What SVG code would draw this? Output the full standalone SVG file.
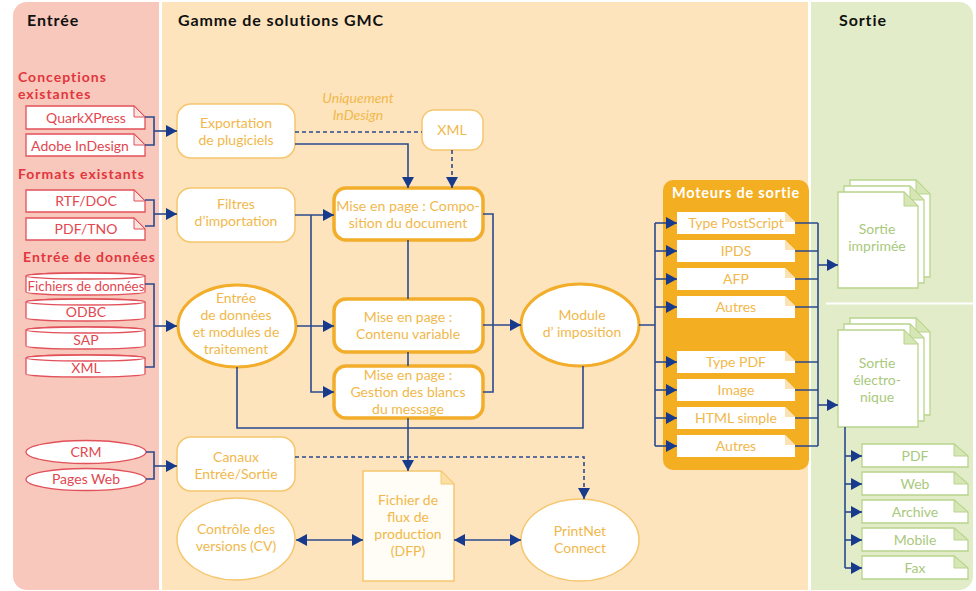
<svg xmlns="http://www.w3.org/2000/svg" width="976" height="591" viewBox="0 0 976 591">
<defs>
  <clipPath id="panels"><rect x="13" y="2" width="960" height="588" rx="14"/></clipPath>
  <marker id="arr" markerUnits="userSpaceOnUse" markerWidth="11" markerHeight="12" refX="11" refY="6" orient="auto-start-reverse">
    <path d="M0,0 L11,6 L0,12 Z" fill="#173a8c"/>
  </marker>
  <style>
    text { font-family: Lato, "Open Sans", "Noto Sans", sans-serif; }
    .title { font-size: 16px; font-weight: bold; fill: #111; letter-spacing: 0.9px; }
    .rh { font-size: 14px; font-weight: bold; fill: #e2353d; letter-spacing: 1px; }
    .rt { font-size: 14px; fill: #e2474f; text-anchor: middle; }
    .ot { font-size: 14px; fill: #f1b84c; text-anchor: middle; }
    .gt { font-size: 14px; fill: #a9c97c; text-anchor: middle; }
    .rdoc { fill: #fff; stroke: #e2505a; stroke-width: 1.3; }
    .rfold { fill: #fbe3e0; stroke: #e2505a; stroke-width: 1; }
    .thin { fill: #fff; stroke: #f5c66d; stroke-width: 1.5; }
    .thick { fill: #fff; stroke: #f2ad2b; stroke-width: 3.5; }
    .edoc { fill: #fff; }
    .efold { fill: #fbe2b4; }
    .gdoc { fill: #fff; stroke: #b8d48c; stroke-width: 1.3; }
    .gfold { fill: #d6e7b5; stroke: #b8d48c; stroke-width: 1; }
    .c { fill: none; stroke: #2a4a8e; stroke-width: 1.6; }
    .a { marker-end: url(#arr); }
    .d { stroke-dasharray: 4 3; }
    .b { marker-start: url(#arr); marker-end: url(#arr); }
  </style>
</defs>

<rect x="0" y="0" width="976" height="591" fill="#fff"/>
<g clip-path="url(#panels)">
  <rect x="13" y="2" width="146" height="590" fill="#f7c8bb"/>
  <rect x="162" y="2" width="646" height="590" fill="#fde4bd"/>
  <rect x="811" y="2" width="165" height="590" fill="#e2ecc9"/>
</g>
<line x1="826" y1="303.5" x2="973" y2="303.5" stroke="#fff" stroke-width="2"/>

<text class="title" x="27" y="26">Entrée</text>
<text class="title" x="178" y="26">Gamme de solutions GMC</text>
<text class="title" x="839" y="26">Sortie</text>

<text class="rh" x="18" y="82">Conceptions</text>
<text class="rh" x="18" y="99">existantes</text>
<text class="rh" x="18" y="179">Formats existants</text>
<text class="rh" x="23" y="262">Entrée de données</text>

<!-- Input docs -->
<g id="quark">
  <path class="rdoc" d="M26,106 H134 L145,117 V129 H26 Z"/>
  <path class="rfold" d="M134,106 V117 H145 Z"/>
  <text class="rt" x="86" y="123">QuarkXPress</text>
</g>
<g id="indesign">
  <path class="rdoc" d="M26,134 H134 L145,145 V156 H26 Z"/>
  <path class="rfold" d="M134,134 V145 H145 Z"/>
  <text class="rt" x="80" y="151">Adobe InDesign</text>
</g>
<g id="rtf">
  <path class="rdoc" d="M26,190 H134 L145,201 V212 H26 Z"/>
  <path class="rfold" d="M134,190 V201 H145 Z"/>
  <text class="rt" x="86" y="206">RTF/DOC</text>
</g>
<g id="pdftno">
  <path class="rdoc" d="M26,218 H134 L145,229 V240 H26 Z"/>
  <path class="rfold" d="M134,218 V229 H145 Z"/>
  <text class="rt" x="86" y="234">PDF/TNO</text>
</g>

<!-- cylinders -->
<g id="fichiers">
  <path class="rdoc" d="M26,276 A59.5,3 0 0 1 145,276 V292 A59.5,3 0 0 1 26,292 Z"/>
  <ellipse class="rdoc" cx="85.5" cy="276" rx="59.5" ry="3"/>
  <text class="rt" x="86" y="291" style="font-size:13.4px">Fichiers de données</text>
</g>
<g id="odbc">
  <path class="rdoc" d="M26,302 A59.5,3 0 0 1 145,302 V318 A59.5,3 0 0 1 26,318 Z"/>
  <ellipse class="rdoc" cx="85.5" cy="302" rx="59.5" ry="3"/>
  <text class="rt" x="86" y="317">ODBC</text>
</g>
<g id="sap">
  <path class="rdoc" d="M26,330 A59.5,3 0 0 1 145,330 V346 A59.5,3 0 0 1 26,346 Z"/>
  <ellipse class="rdoc" cx="85.5" cy="330" rx="59.5" ry="3"/>
  <text class="rt" x="86" y="345">SAP</text>
</g>
<g id="xmlin">
  <path class="rdoc" d="M26,358 A59.5,3 0 0 1 145,358 V374 A59.5,3 0 0 1 26,374 Z"/>
  <ellipse class="rdoc" cx="85.5" cy="358" rx="59.5" ry="3"/>
  <text class="rt" x="86" y="373">XML</text>
</g>

<g id="crm">
  <ellipse class="rdoc" cx="86" cy="452" rx="60" ry="11.5"/>
  <text class="rt" x="86" y="457">CRM</text>
</g>
<g id="pagesweb">
  <ellipse class="rdoc" cx="86" cy="479.5" rx="60" ry="11"/>
  <text class="rt" x="86" y="484">Pages Web</text>
</g>

<!-- Center nodes -->
<g id="exportation">
  <rect class="thin" x="177" y="104" width="118" height="54" rx="14"/>
  <text class="ot" x="236" y="128">Exportation</text>
  <text class="ot" x="236" y="145">de plugiciels</text>
</g>
<g id="uniquement">
  <text class="ot" x="358" y="103" font-style="italic">Uniquement</text>
  <text class="ot" x="358" y="120" font-style="italic">InDesign</text>
</g>
<g id="xml">
  <rect class="thin" x="422" y="110" width="61" height="40" rx="12"/>
  <text class="ot" x="452" y="135">XML</text>
</g>
<g id="filtres">
  <rect class="thin" x="177" y="188" width="118" height="54" rx="14"/>
  <text class="ot" x="236" y="209">Filtres</text>
  <text class="ot" x="236" y="226">d’importation</text>
</g>
<g id="compo">
  <rect class="thick" x="334" y="188" width="149" height="52" rx="12"/>
  <text class="ot" x="408" y="211" style="font-size:14.2px">Mise en page : Compo-</text>
  <text class="ot" x="408" y="228">sition du document</text>
</g>
<g id="entreedonnees">
  <ellipse class="thick" cx="237" cy="326" rx="59" ry="41" style="stroke-width:3"/>
  <text class="ot" x="236" y="303">Entrée</text>
  <text class="ot" x="236" y="320">de données</text>
  <text class="ot" x="236" y="337">et modules de</text>
  <text class="ot" x="236" y="354">traitement</text>
</g>
<g id="contenu">
  <rect class="thick" x="334" y="299" width="149" height="53" rx="12"/>
  <text class="ot" x="408" y="322">Mise en page :</text>
  <text class="ot" x="408" y="339">Contenu variable</text>
</g>
<g id="gestion">
  <rect class="thick" x="334" y="366" width="149" height="52" rx="12"/>
  <text class="ot" x="408" y="380">Mise en page :</text>
  <text class="ot" x="408" y="397">Gestion des blancs</text>
  <text class="ot" x="408" y="414">du message</text>
</g>
<g id="module">
  <ellipse class="thick" cx="580" cy="325" rx="59" ry="41" style="stroke-width:3"/>
  <text class="ot" x="582" y="320">Module</text>
  <text class="ot" x="582" y="337">d’ imposition</text>
</g>
<g id="canaux">
  <rect class="thin" x="177" y="437" width="118" height="54" rx="14"/>
  <text class="ot" x="236" y="462">Canaux</text>
  <text class="ot" x="236" y="479">Entrée/Sortie</text>
</g>
<g id="controle">
  <ellipse class="thin" cx="236" cy="539" rx="59" ry="41"/>
  <text class="ot" x="236" y="534">Contrôle des</text>
  <text class="ot" x="236" y="551">versions (CV)</text>
</g>
<g id="fichierflux">
  <path class="thin" d="M363,471 H441 L454,484 V581 H363 Z" style="fill:#fffdf5"/>
  <path d="M441,471 V484 H454 Z" fill="#fbe0a6" stroke="#f5c66d" stroke-width="1"/>
  <text class="ot" x="408" y="505">Fichier de</text>
  <text class="ot" x="408" y="522">flux de</text>
  <text class="ot" x="408" y="539">production</text>
  <text class="ot" x="408" y="556">(DFP)</text>
</g>
<g id="printnet">
  <ellipse class="thin" cx="580" cy="540" rx="59" ry="41"/>
  <text class="ot" x="580" y="536">PrintNet</text>
  <text class="ot" x="580" y="553">Connect</text>
</g>

<!-- Moteurs de sortie -->
<g id="moteurs">
  <rect x="663" y="180" width="146" height="290" rx="10" fill="#f4ae22"/>
  <text x="736" y="198" text-anchor="middle" style="font-size:14.5px;font-weight:bold;fill:#fff;letter-spacing:0.8px">Moteurs de sortie</text>
</g>
<g id="postscript">
  <path class="edoc" d="M677,212 H785 L795,222 V234 H677 Z"/><path class="efold" d="M785,212 V222 H795 Z"/>
  <text class="ot" x="736" y="228">Type PostScript</text>
</g>
<g id="ipds">
  <path class="edoc" d="M677,240 H785 L795,250 V262 H677 Z"/><path class="efold" d="M785,240 V250 H795 Z"/>
  <text class="ot" x="736" y="256">IPDS</text>
</g>
<g id="afp">
  <path class="edoc" d="M677,268 H785 L795,278 V290 H677 Z"/><path class="efold" d="M785,268 V278 H795 Z"/>
  <text class="ot" x="736" y="284">AFP</text>
</g>
<g id="autres1">
  <path class="edoc" d="M677,296 H785 L795,306 V318 H677 Z"/><path class="efold" d="M785,296 V306 H795 Z"/>
  <text class="ot" x="736" y="312">Autres</text>
</g>
<g id="typepdf">
  <path class="edoc" d="M677,351 H785 L795,361 V373 H677 Z"/><path class="efold" d="M785,351 V361 H795 Z"/>
  <text class="ot" x="736" y="367">Type PDF</text>
</g>
<g id="image">
  <path class="edoc" d="M677,379 H785 L795,389 V401 H677 Z"/><path class="efold" d="M785,379 V389 H795 Z"/>
  <text class="ot" x="736" y="395">Image</text>
</g>
<g id="html">
  <path class="edoc" d="M677,407 H785 L795,417 V429 H677 Z"/><path class="efold" d="M785,407 V417 H795 Z"/>
  <text class="ot" x="736" y="423">HTML simple</text>
</g>
<g id="autres2">
  <path class="edoc" d="M677,435 H785 L795,445 V457 H677 Z"/><path class="efold" d="M785,435 V445 H795 Z"/>
  <text class="ot" x="736" y="451">Autres</text>
</g>

<!-- Sortie -->
<g id="imprimee">
  <path class="gdoc" d="M850,180 H916 L930,194 V277 H850 Z"/><path class="gfold" d="M916,180 V194 H930 Z"/>
  <path class="gdoc" d="M844,186 H910 L924,200 V283 H844 Z"/><path class="gfold" d="M910,186 V200 H924 Z"/>
  <path class="gdoc" d="M838,192 H904 L918,206 V288 H838 Z"/><path class="gfold" d="M904,192 V206 H918 Z"/>
  <text class="gt" x="877" y="234">Sortie</text>
  <text class="gt" x="877" y="251">imprimée</text>
</g>
<g id="electronique">
  <path class="gdoc" d="M850,318 H916 L930,332 V415 H850 Z"/><path class="gfold" d="M916,318 V332 H930 Z"/>
  <path class="gdoc" d="M844,324 H910 L924,338 V421 H844 Z"/><path class="gfold" d="M910,324 V338 H924 Z"/>
  <path class="gdoc" d="M838,330 H904 L918,344 V427 H838 Z"/><path class="gfold" d="M904,330 V344 H918 Z"/>
  <text class="gt" x="877" y="368">Sortie</text>
  <text class="gt" x="877" y="385">électro-</text>
  <text class="gt" x="877" y="402">nique</text>
</g>
<g id="pdf">
  <path class="gdoc" d="M862,444 H954 L968,456 V467 H862 Z"/><path class="gfold" d="M954,444 V456 H968 Z"/>
  <text class="gt" x="915" y="461">PDF</text>
</g>
<g id="web">
  <path class="gdoc" d="M862,472 H954 L968,484 V495 H862 Z"/><path class="gfold" d="M954,472 V484 H968 Z"/>
  <text class="gt" x="915" y="489">Web</text>
</g>
<g id="archive">
  <path class="gdoc" d="M862,500 H954 L968,512 V523 H862 Z"/><path class="gfold" d="M954,500 V512 H968 Z"/>
  <text class="gt" x="915" y="517">Archive</text>
</g>
<g id="mobile">
  <path class="gdoc" d="M862,528 H954 L968,540 V551 H862 Z"/><path class="gfold" d="M954,528 V540 H968 Z"/>
  <text class="gt" x="915" y="545">Mobile</text>
</g>
<g id="fax">
  <path class="gdoc" d="M862,556 H954 L968,568 V579 H862 Z"/><path class="gfold" d="M954,556 V568 H968 Z"/>
  <text class="gt" x="915" y="573">Fax</text>
</g>

<!-- Connectors -->
<g id="connectors">
  <path class="c" d="M145,117 H154 V145 H145"/>
  <path class="c a" d="M154,131 H177"/>
  <path class="c" d="M145,200 H154 V226 H145"/>
  <path class="c a" d="M154,214 H177"/>
  <path class="c" d="M145,284 H154 V367 H145"/>
  <path class="c a" d="M154,326 H177"/>
  <path class="c" d="M146,452 H154 V479 H146"/>
  <path class="c a" d="M154,466 H177"/>

  <path class="c d" d="M295,132 H422"/>
  <path class="c a" d="M295,144 H408 V188"/>
  <path class="c d a" d="M452,150 V188"/>
  <path class="c a" d="M295,215 H334"/>
  <path class="c a" d="M311,215 V392 H334"/>
  <path class="c a" d="M297,326 H334"/>
  <path class="c" d="M408,240 V299 M408,352 V366"/>
  <path class="c a" d="M408,418 V471"/>
  <path class="c" d="M483,214 H493 V392 H483"/>
  <path class="c a" d="M483,325 H521"/>
  <path class="c" d="M237,367 V428 H583 V366"/>
  <path class="c d a" d="M295,457 H584 V499"/>
  <path class="c b" d="M296,540 H363"/>
  <path class="c b" d="M454,540 H521"/>

  <path class="c" d="M639,325 H655 M655,223 V446"/>
  <path class="c a" d="M655,223 H677"/>
  <path class="c a" d="M655,251 H677"/>
  <path class="c a" d="M655,279 H677"/>
  <path class="c a" d="M655,307 H677"/>
  <path class="c a" d="M655,362 H677"/>
  <path class="c a" d="M655,390 H677"/>
  <path class="c a" d="M655,418 H677"/>
  <path class="c a" d="M655,446 H677"/>

  <path class="c" d="M795,223 H818 M795,251 H818 M795,279 H818 M795,307 H818 M795,362 H818 M795,390 H818 M795,418 H818 M795,446 H818 M818,223 V446"/>
  <path class="c a" d="M818,265 H838"/>
  <path class="c a" d="M818,405 H838"/>

  <path class="c" d="M845,427 V568"/>
  <path class="c a" d="M845,456 H862"/>
  <path class="c a" d="M845,484 H862"/>
  <path class="c a" d="M845,512 H862"/>
  <path class="c a" d="M845,540 H862"/>
  <path class="c a" d="M845,568 H862"/>
</g>
</svg>
